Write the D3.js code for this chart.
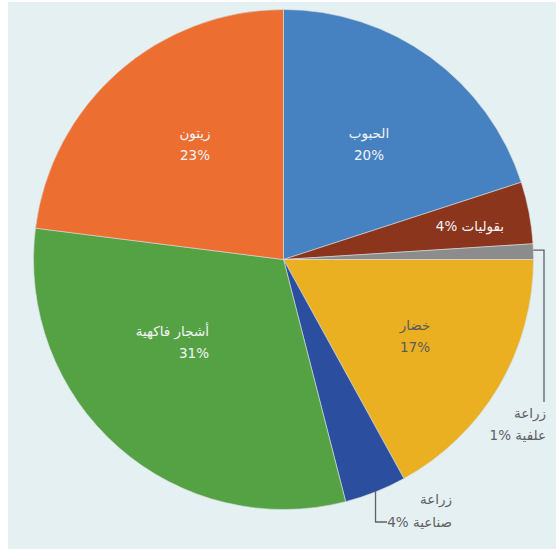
<!DOCTYPE html>
<html>
<head>
<meta charset="utf-8">
<script src="https://cdn.jsdelivr.net/npm/d3@7"></script>
<style>
  body { margin: 0; background: #fff; }
  text { font-family: "DejaVu Sans", sans-serif; }
</style>
</head>
<body>
<div class="pie-chart"></div>
<script>
// data
var categories = ["الحبوب", "بقوليات", "زراعة علفية", "خضار", "زراعة صناعية", "أشجار فاكهية", "زيتون"]
var values = [20, 4, 1, 17, 4, 31, 23]
var colors = ["#4682c1", "#8b351c", "#8c8c8c", "#ebb022", "#2c4e9e", "#55a245", "#ec6e31"]

var width = 556, height = 549
var cx = 283.5, cy = 259.5, radius = 250

var svg = d3.select(".pie-chart")
  .append("svg")
    .attr("width", width)
    .attr("height", height)

// background panel
svg.append("rect")
  .attr("x", 8).attr("y", 2)
  .attr("width", width - 8).attr("height", height - 2)
  .attr("fill", "#e5f0f3")

var g = svg.append("g")
  .attr("transform", "translate(" + cx + "," + cy + ")")

var pie = d3.pie().sort(null).value(function(d) { return d.value })
var arc = d3.arc().innerRadius(0).outerRadius(radius)

var data = categories.map(function(c, i) { return {name: c, value: values[i], color: colors[i]} })
var arcs = pie(data)

g.selectAll("path")
  .data(arcs)
  .enter()
  .append("path")
    .attr("d", arc)
    .attr("fill", function(d) { return d.data.color })
    .attr("stroke", "#d8dde0")
    .attr("stroke-width", 0.6)

// point on the circle for a given angle and radius factor
function pt(a, k) {
  return [Math.sin(a) * radius * k, -Math.cos(a) * radius * k]
}
function mid(d) { return (d.startAngle + d.endAngle) / 2 }

var fs = 13.5
// keep "4%" left-to-right inside the arabic line
function pct(v) { return "\u2066" + v + "%\u2069" }

// arabic text, rtl. anchor "start" = right aligned
function label(x, y, lines, fill, anchor, lh) {
  var t = svg.append("text")
    .attr("direction", "rtl")
    .attr("text-anchor", anchor)
    .attr("fill", fill)
    .style("font-size", fs + "px")
  lines.forEach(function(s, j) {
    t.append("tspan")
      .attr("x", x)
      .attr("y", y + j * (lh || 22))
      .text(s)
  })
  return t
}

var light = "#f2f4f7", dark = "#5d6166"

label(369, 138, [categories[0], pct(values[0])], light, "middle")
label(415, 330, [categories[3], pct(values[3])], "#5a5a5a", "middle")
label(209, 336, [categories[5], pct(values[5])], light, "start")
label(195, 138, [categories[6], pct(values[6])], light, "middle")
label(470, 231, [categories[1] + " " + pct(values[1])], light, "middle")

// outside labels with leader lines
var gray = arcs[2]
var gp = pt(mid(gray), 1)
svg.append("path")
  .attr("d", "M" + (cx + gp[0]) + "," + (cy + gp[1] - 1.5) + "H544V402")
  .attr("fill", "none")
  .attr("stroke", dark)
  .attr("stroke-width", 1.3)

label(546, 418, ["زراعة", "علفية " + pct(values[2])], dark, "start")

var blue = arcs[4]
var bp = pt(mid(blue), 1)
svg.append("path")
  .attr("d", "M" + (cx + bp[0]) + "," + (cy + bp[1] - 1) + "V522H387")
  .attr("fill", "none")
  .attr("stroke", dark)
  .attr("stroke-width", 1.3)

label(452, 504, ["زراعة", "صناعية " + pct(values[4])], dark, "start", 23)
</script>
</body>
</html>
